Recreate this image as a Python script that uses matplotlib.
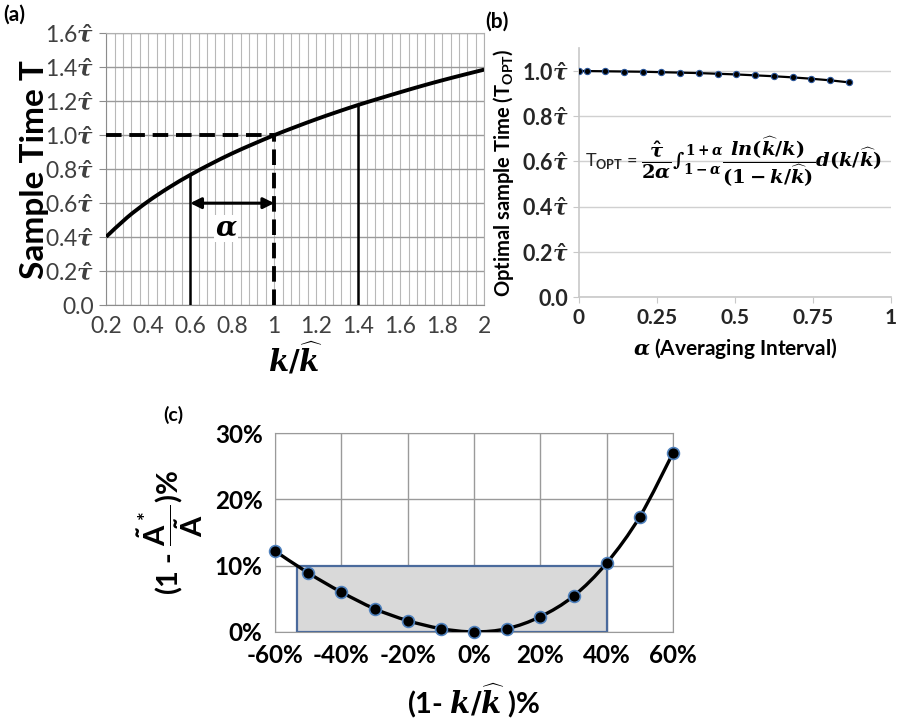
import numpy as np
import matplotlib
matplotlib.use("Agg")
import matplotlib.pyplot as plt
from matplotlib.path import Path
from matplotlib.patches import PathPatch, Rectangle
from matplotlib.ticker import MultipleLocator

plt.rcParams['font.family'] = ['Lato', 'DejaVu Sans']
plt.rcParams['mathtext.fontset'] = 'custom'
plt.rcParams['mathtext.rm'] = 'DejaVu Serif:bold'
plt.rcParams['mathtext.it'] = 'DejaVu Serif:italic:bold'
plt.rcParams['mathtext.bf'] = 'DejaVu Serif:italic:bold'
plt.rcParams['mathtext.sf'] = 'Lato:bold'

# ---- data ----
# (a) sample time vs k/k_hat
a_x = [0.2, 0.3, 0.4, 0.5, 0.6, 0.7, 0.8, 0.9, 1.0, 1.1, 1.2, 1.3, 1.4, 1.5, 1.6, 1.7, 1.8, 1.9, 2.0]
a_T = [0.402, 0.516, 0.611, 0.693, 0.766, 0.832, 0.893, 0.948, 1.000, 1.048, 1.094, 1.137,
       1.178, 1.216, 1.253, 1.289, 1.323, 1.355, 1.386]
a_alpha_lo, a_alpha_hi, a_right = 0.6, 1.0, 1.4
a_yticks = [0.0, 0.2, 0.4, 0.6, 0.8, 1.0, 1.2, 1.4, 1.6]
a_xticks = [0.2, 0.4, 0.6, 0.8, 1.0, 1.2, 1.4, 1.6, 1.8, 2.0]

# (b) optimal sample time vs alpha
b_alpha = [0.0, 0.025, 0.085, 0.145, 0.205, 0.265, 0.325, 0.385, 0.445, 0.505,
           0.565, 0.625, 0.685, 0.745, 0.805, 0.865]
b_Topt = [1.000, 1.000, 0.999, 0.998, 0.997, 0.995, 0.993, 0.991, 0.988, 0.985,
          0.981, 0.977, 0.972, 0.966, 0.959, 0.950]
b_yticks = [0.0, 0.2, 0.4, 0.6, 0.8, 1.0]
b_xticks = [0, 0.25, 0.5, 0.75, 1]

# (c) error vs (1 - k/k_hat)
c_x = [-60, -50, -40, -30, -20, -10, 0, 10, 20, 30, 40, 50, 60]
c_y = [12.2, 8.9, 6.0, 3.5, 1.7, 0.5, 0.0, 0.5, 2.3, 5.4, 10.4, 17.4, 27.0]
c_box = (-53.5, 40, 0, 10)
c_xticks = [-60, -40, -20, 0, 20, 40, 60]
c_yticks = [0, 10, 20, 30]


def smooth_path(x, y):
    # catmull-rom style bezier through the points (like Excel smoothed line)
    p = np.column_stack([x, y]).astype(float)
    pts = np.vstack([p[0], p, p[-1]])
    verts = [tuple(p[0])]
    codes = [Path.MOVETO]
    for i in range(1, len(pts) - 2):
        c1 = pts[i] + (pts[i + 1] - pts[i - 1]) / 6
        c2 = pts[i + 1] - (pts[i + 2] - pts[i]) / 6
        verts += [tuple(c1), tuple(c2), tuple(pts[i + 1])]
        codes += [Path.CURVE4] * 3
    return Path(verts, codes)


tau_lab = lambda v: '0.0' if v == 0 else f'{v:.1f}' + r'$\hat{\tau}$'

fig = plt.figure(figsize=(9, 7.23), dpi=100)

# ---------------- (a) ----------------
ax1 = fig.add_axes([0.118, 0.578, 0.420, 0.376])
ax1.set_xlim(0.2, 2.0)
ax1.set_ylim(0, 1.6)
ax1.xaxis.set_minor_locator(MultipleLocator(0.04))
ax1.set_yticks(a_yticks, [tau_lab(v) for v in a_yticks])
ax1.set_xticks(a_xticks, [f'{v:g}' for v in a_xticks])
ax1.grid(True, which='major', axis='y', color='#9a9a9a', lw=1.0)
ax1.grid(True, which='both', axis='x', color='#b8b8b8', lw=0.8)
for s in ['top', 'right']:
    ax1.spines[s].set_color('#b0b0b0')
for s in ['left', 'bottom']:
    ax1.spines[s].set_color('#8c8c8c')
ax1.tick_params(axis='both', which='major', labelsize=16.5, colors='#404040', length=5, color='#8c8c8c')
ax1.tick_params(axis='x', which='minor', length=0)
ax1.tick_params(axis='x', which='major', length=0, pad=8)
ax1.add_patch(PathPatch(smooth_path(a_x, a_T), fill=False, lw=2.8, color='black', zorder=4))
T_lo = a_T[a_x.index(a_alpha_lo)]
T_hi = a_T[a_x.index(a_right)]
ax1.plot([a_x[0], 1.0], [1.0, 1.0], ls=(0, (4, 2)), color='black', lw=2.8, zorder=4)
ax1.plot([1.0, 1.0], [0, 1.0], ls=(0, (4, 2)), color='black', lw=2.8, zorder=4)
ax1.plot([a_alpha_lo, a_alpha_lo], [0, T_lo], color='black', lw=1.8, zorder=4)
ax1.plot([a_right, a_right], [0, T_hi], color='black', lw=1.8, zorder=4)
ax1.annotate('', xy=(a_alpha_hi, 0.6), xytext=(a_alpha_lo, 0.6),
             arrowprops=dict(arrowstyle='<|-|>', lw=2.2, color='black', mutation_scale=16,
                             shrinkA=0, shrinkB=0), zorder=5)
ax1.text(0.77, 0.45, r'$\alpha$', fontsize=20, ha='center', va='center', zorder=5,
         bbox=dict(fc='white', ec='none', pad=0.5))
ax1.set_ylabel('Sample Time T', fontsize=24, fontweight='bold')
ax1.yaxis.set_label_coords(-0.15, 0.5)
ax1.set_xlabel(r'$k/\widehat{k}$', fontsize=21, labelpad=2)
fig.text(0.004, 0.972, '(a)', fontsize=15, fontweight='bold')

# ---------------- (b) ----------------
ax2 = fig.add_axes([0.643, 0.589, 0.347, 0.344])
ax2.set_xlim(0, 1)
ax2.set_ylim(0, 1.1)
ax2.set_yticks(b_yticks, [tau_lab(v) for v in b_yticks], fontweight='bold')
ax2.set_xticks(b_xticks, ['0', '0.25', '0.5', '0.75', '1'], fontweight='bold')
ax2.grid(True, axis='y', color='#d0d0d0', lw=1.0)
ax2.set_axisbelow(True)
for s in ['top', 'right']:
    ax2.spines[s].set_visible(False)
for s in ['left', 'bottom']:
    ax2.spines[s].set_color('#c8c8c8')
    ax2.spines[s].set_linewidth(1.2)
ax2.tick_params(axis='y', labelsize=15.5, length=4, color='#c8c8c8', labelcolor='#262626')
ax2.tick_params(axis='x', labelsize=15, length=4, color='#c8c8c8', labelcolor='#262626')
ax2.plot(b_alpha, b_Topt, color='black', lw=1.6, marker='o', ms=4.5,
         mfc='black', mec='#2a5599', mew=0.8, zorder=4)
ax2.text(0.02, 0.6, r'T$_{\mathsf{OPT}}$ =', fontsize=13, va='center', ha='left', color='#262626')
ax2.text(0.2, 0.6,
         r'$\dfrac{\hat{\tau}}{2\alpha}\int_{1-\alpha}^{1+\alpha}\dfrac{ln(\widehat{k}/k)}{(1-k/\widehat{k})}d(k/\widehat{k})$',
         fontsize=14, va='center', ha='left', color='black')
ax2.set_ylabel(r'Optimal sample Time (T$_{\mathsf{OPT}}$)', fontsize=14.5, fontweight='bold', labelpad=4)
ax2.set_xlabel(r'$\alpha$ (Averaging Interval)', fontsize=15, fontweight='bold', labelpad=6)
fig.text(0.539, 0.962, '(b)', fontsize=15, fontweight='bold')

# ---------------- (c) ----------------
ax3 = fig.add_axes([0.3056, 0.126, 0.4422, 0.275])
ax3.set_xlim(-60, 60)
ax3.set_ylim(0, 30)
ax3.set_xticks(c_xticks, [f'{v}%' for v in c_xticks], fontweight='bold')
ax3.set_yticks(c_yticks, [f'{v}%' for v in c_yticks], fontweight='bold')
ax3.grid(True, color='#9a9a9a', lw=1.0)
ax3.set_axisbelow(True)
for s in ax3.spines.values():
    s.set_color('#9a9a9a')
ax3.tick_params(axis='both', labelsize=17.5, length=0, pad=9, labelcolor='black')
bx0, bx1, by0, by1 = c_box
ax3.add_patch(Rectangle((bx0, by0), bx1 - bx0, by1 - by0, fc='#d9d9d9', ec='#4a6a9c', lw=1.6, zorder=2))
ax3.add_patch(PathPatch(smooth_path(c_x, c_y), fill=False, lw=2.4, color='black', zorder=4))
ax3.plot(c_x, c_y, ls='none', marker='o', ms=8.5, mfc='black', mec='#4f81bd', mew=1.2,
         zorder=5, clip_on=False)
ax3.set_ylabel(r'(1 - $\mathsf{\dfrac{\tilde{A}^*}{\tilde{A}}}$)%', fontsize=21, fontweight='bold')
ax3.yaxis.set_label_coords(-0.175, 0.5)
ax3.set_xlabel(r'(1- $k/\widehat{k}$ )%', fontsize=21, fontweight='bold', labelpad=10)
fig.text(0.181, 0.418, '(c)', fontsize=14, fontweight='bold')

fig.savefig('out.png', dpi=100)
